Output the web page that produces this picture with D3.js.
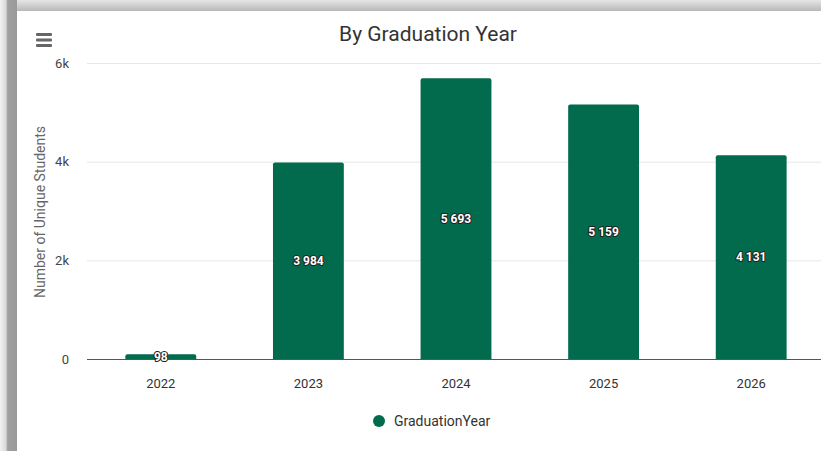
<!DOCTYPE html>
<html><head><meta charset="utf-8">
<script src="https://cdn.jsdelivr.net/npm/d3@7"></script>
<style>
html,body{margin:0;padding:0;background:#fff;overflow:hidden}
svg{display:block;font-family:"Liberation Sans Narrow","Roboto","Liberation Sans",sans-serif}
</style></head>
<body>
<svg id="c" width="821" height="451"></svg>
<script>
const categories = ["2022","2023","2024","2025","2026"];
const values = [98, 3984, 5693, 5159, 4131];
const yTicks = [0, 2000, 4000, 6000];
const yTickLabels = ["0","2k","4k","6k"];
const title = "By Graduation Year";
const yTitle = "Number of Unique Students";
const seriesName = "GraduationYear";
const color = "#036b4d";

const svg = d3.select("#c");
const defs = svg.append("defs");
const gl = defs.append("linearGradient").attr("id","gl").attr("x1",0).attr("x2",1);
gl.append("stop").attr("offset","0").attr("stop-color","#f2f2f2");
gl.append("stop").attr("offset","0.35").attr("stop-color","#d8d8d8");
gl.append("stop").attr("offset","0.45").attr("stop-color","#a0a0a0");
gl.append("stop").attr("offset","1").attr("stop-color","#9a9a9a");
const gt = defs.append("linearGradient").attr("id","gt").attr("x1",0).attr("x2",0).attr("y1",0).attr("y2",1);
gt.append("stop").attr("offset","0").attr("stop-color","#e6e6e6");
gt.append("stop").attr("offset","0.5").attr("stop-color","#cfcfcf");
gt.append("stop").attr("offset","1").attr("stop-color","#b8b8b8");

svg.append("rect").attr("x",0).attr("y",0).attr("width",821).attr("height",451).attr("fill","#fff");
svg.append("rect").attr("x",0).attr("y",0).attr("width",821).attr("height",11).attr("fill","url(#gt)");
svg.append("rect").attr("x",0).attr("y",0).attr("width",17).attr("height",451).attr("fill","url(#gl)");

const plot = {left: 87, right: 825, top: 63, bottom: 359};
const x = d3.scaleBand().domain(categories).range([plot.left, plot.right]).paddingInner(0.52).paddingOuter(0.26);
const y = d3.scaleLinear().domain([0, 6000]).range([plot.bottom, plot.top]);

// gridlines
svg.append("g").selectAll("line").data(yTicks.slice(1)).join("line")
  .attr("x1", plot.left).attr("x2", 821).attr("y1", d=>y(d)+0.5).attr("y2", d=>y(d)+0.5)
  .attr("stroke","#e6e6e6").attr("stroke-width",1);

// y tick labels
svg.append("g").selectAll("text").data(yTicks).join("text")
  .attr("x", 69).attr("y", d=>y(d)+4.5).attr("text-anchor","end")
  .attr("font-size",13).attr("fill","#444").text((d,i)=>yTickLabels[i]);

// y title
svg.append("text").attr("transform",`translate(45,${(plot.top+plot.bottom)/2 + 1}) rotate(-90)`)
  .attr("text-anchor","middle").attr("font-size",14).attr("fill","#666").text(yTitle);

// bars with rounded tops
const r = 2;
svg.append("g").selectAll("path").data(values).join("path")
  .attr("fill", color)
  .attr("d", (d,i)=>{
    const x0 = x(categories[i]), w = x.bandwidth(), y0 = y(d), yb = y(0);
    const rr = Math.min(r, (yb-y0)/2);
    return `M${x0},${yb}V${y0+rr}Q${x0},${y0} ${x0+rr},${y0}H${x0+w-rr}Q${x0+w},${y0} ${x0+w},${y0+rr}V${yb}Z`;
  });

// baseline
svg.append("line").attr("x1",plot.left).attr("x2",821).attr("y1",plot.bottom+0.5).attr("y2",plot.bottom+0.5)
  .attr("stroke","#555").attr("stroke-width",1);

// x labels
svg.append("g").selectAll("text").data(categories).join("text")
  .attr("x", d=>x(d)+x.bandwidth()/2).attr("y", 388).attr("text-anchor","middle")
  .attr("font-size",13).attr("fill","#333").text(d=>d);

// data labels
const fmt = v => d3.format(",")(v).replace(/,/g, " ");
svg.append("g").selectAll("text").data(values).join("text")
  .attr("x", (d,i)=>x(categories[i])+x.bandwidth()/2)
  .attr("y", d=>Math.min((y(d)+y(0))/2, plot.bottom-2) + 4)
  .attr("text-anchor","middle").attr("font-size",12).attr("font-weight","bold")
  .attr("fill","#fff").attr("stroke","#222").attr("stroke-width",2).attr("stroke-linejoin","round")
  .attr("paint-order","stroke").text(d=>fmt(d));

// title
svg.append("text").attr("x",428).attr("y",41).attr("text-anchor","middle")
  .attr("font-size",21).attr("fill","#333").text(title);

// menu icon
svg.append("g").selectAll("rect").data([0,1,2]).join("rect")
  .attr("x",36).attr("y",d=>33+d*5.5).attr("width",16).attr("height",3).attr("rx",1)
  .attr("fill","#666");

// legend
svg.append("circle").attr("cx",379).attr("cy",421).attr("r",6).attr("fill",color);
svg.append("text").attr("x",394).attr("y",426).attr("font-size",14).attr("fill","#333").text(seriesName);
</script>
</body></html>
